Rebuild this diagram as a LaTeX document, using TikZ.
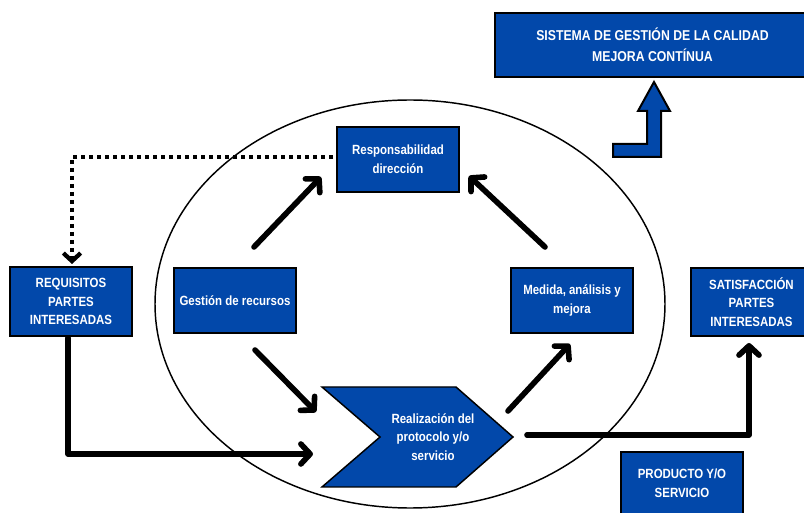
\documentclass[tikz,border=0pt]{standalone}
\usepackage{fontspec}
\usetikzlibrary{arrows.meta,calc}
\newfontfamily\lbl{Liberation Sans}[FakeStretch=0.86]
\definecolor{boxblue}{RGB}{2,72,170}
\tikzset{
  bluebox/.style={draw=black, line width=1.5pt, fill=boxblue, text=white,
    font=\lbl\bfseries\fontsize{10}{14}\selectfont, align=center,
    minimum width=91.5pt, minimum height=48.75pt, inner sep=2pt},
  flow/.style={line width=4.2pt, line cap=round, line join=round,
    -{Straight Barb[length=7pt,width=15pt,line cap=round,line join=round]}},
  link/.style={line width=3.2pt, dash pattern=on 3pt off 3pt,
    -{Straight Barb[length=6pt,width=13pt]}}
}
\begin{document}
\begin{tikzpicture}[x=0.75pt,y=-0.75pt]
\useasboundingbox (0,0) rectangle (804,513);
\fill[white] (0,0) rectangle (804,513);

% process cycle
\draw[line width=1.1pt] (410,304) ellipse [x radius=255, y radius=204];

% boxes
\node[bluebox, minimum width=236pt, minimum height=48pt,
  font=\lbl\bfseries\fontsize{10.7}{15.75}\selectfont] (sgc) at (652.5,45)
  {SISTEMA DE GESTIÓN DE LA CALIDAD\\MEJORA CONTÍNUA};
\node[bluebox] (resp) at (398,159.5) {Responsabilidad\\dirección};
\node[bluebox, minimum height=51.75pt] (req) at (71,301.5) {REQUISITOS\\PARTES\\INTERESADAS};
\node[bluebox] (gest) at (235,300.5) {Gestión de recursos};
\node[bluebox] (med) at (572,300.5) {Medida, análisis y\\mejora};
\node[bluebox, minimum width=90.75pt, minimum height=51pt] (sat) at (751.5,302) {SATISFACCIÓN\\PARTES\\INTERESADAS};
\node[bluebox, minimum height=46.5pt] (prod) at (682,483) {PRODUCTO Y/O\\SERVICIO};

% chevron process step
\draw[line width=1.1pt, fill=boxblue, line join=miter]
  (322,387) -- (456,387) -- (513,437) -- (456,487) -- (322,487) -- (380,437) -- cycle;
\node[font=\lbl\bfseries\fontsize{10}{14}\selectfont, text=white, align=center] (real) at (433,437)
  {Realización del\\protocolo y/o\\servicio};

% bent arrow towards the quality system
\draw[line width=1.5pt, fill=boxblue, line join=miter]
  (654,82) -- (670,111) -- (661,111) -- (661,157) -- (613,157) -- (613,144)
  -- (647,144) -- (647,111) -- (638,111) -- cycle;

% arrow end points
\coordinate (g1) at (254,247);  \coordinate (r1) at (321,177);
\coordinate (m1) at (545,247);  \coordinate (r2) at (469,176);
\coordinate (g2) at (255,350);  \coordinate (c1) at (316,412);
\coordinate (c2) at (508,411);  \coordinate (m2) at (570,344);
\coordinate (c3) at (527,435);  \coordinate (s1) at (749,343);
\coordinate (c4) at (313,454);

\draw[flow] (g1) -- (r1);
\draw[flow] (m1) -- (r2);
\draw[flow] (g2) -- (c1);
\draw[flow] (c2) -- (m2);
\draw[flow] ($(req.south)+(-3,1)$) |- (c4);
\draw[flow] (c3) -| (s1);
\draw[link] ($(resp.west)+(-3,-2.5)$) -| ($(req.north)+(1,-2)$);
\end{tikzpicture}
\end{document}
